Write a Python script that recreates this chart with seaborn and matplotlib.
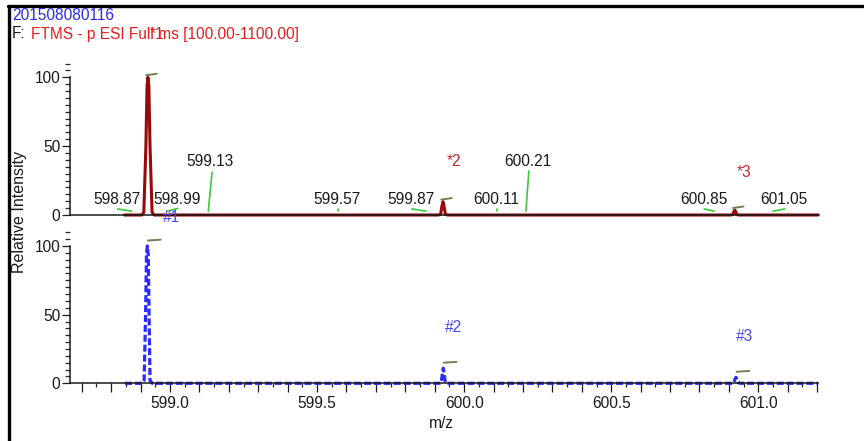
import pandas as pd
import seaborn as sns
import matplotlib.pyplot as plt
from matplotlib.lines import Line2D
from matplotlib.ticker import MultipleLocator, FixedLocator, FuncFormatter

# measured profile spectrum (top) and simulated isotope pattern (bottom)
mz_top = [598.845, 598.904, 598.911, 598.918, 598.922, 598.925, 598.928, 598.932, 598.939, 598.946,
          599.912, 599.920, 599.924, 599.928, 599.932, 599.936, 599.944,
          600.906, 600.913, 600.917, 600.920, 600.923, 600.927, 600.934, 601.204]
int_top = [0, 0, 2, 50, 94, 100, 94, 50, 2, 0,
           0, 0.5, 6, 9.7, 6, 0.5, 0,
           0, 0.3, 2.5, 3.6, 2.5, 0.3, 0, 0]

mz_bot = [598.847, 598.906, 598.912, 598.917, 598.920, 598.923, 598.926, 598.932, 598.940,
          599.915, 599.922, 599.926, 599.929, 599.932, 599.936, 599.944,
          600.910, 600.917, 600.921, 600.924, 600.927, 600.931, 600.938, 601.204]
int_bot = [0, 0, 2, 50, 94, 100, 94, 2, 0,
           0, 0.5, 7, 11, 7, 0.5, 0,
           0, 0.5, 3.2, 4.4, 3.2, 0.5, 0, 0]

# isotope peak centroids
peak_mz_top = [598.925, 599.928, 600.920]
peak_int_top = [100, 9.7, 3.6]
peak_names_top = ['*1', '*2', '*3']
peak_mz_bot = [598.923, 599.929, 600.924]
peak_int_bot = [100, 11, 4.4]
peak_names_bot = ['#1', '#2', '#3']

# labelled noise peaks in the top trace
noise_mz = [598.87, 598.99, 599.13, 599.57, 599.87, 600.11, 600.21, 600.85, 601.05]
noise_labels = ['598.87', '598.99', '599.13', '599.57', '599.87', '600.11', '600.21', '600.85', '601.05']

# label placement (data units)
noise_text_x = [598.821, 599.024, 599.136, 599.568, 599.819, 600.108, 600.217, 600.815, 601.087]
noise_text_y = [11.6, 11.6, 38.5, 11.6, 11.6, 11.0, 38.5, 11.0, 11.0]
leader_x = [598.822, 599.027, 599.143, 599.570, 599.822, 600.110, 600.220, 600.816, 601.090]
leader_y = [4.4, 4.8, 31, 4.5, 4.4, 4.5, 32, 4.4, 4.4]
top_lbl_dx = [0.032, 0.036, 0.033]
top_lbl_y = [131, 38.5, 31]
bot_lbl_dx = [0.082, 0.036, 0.031]
bot_lbl_y = [121, 41, 34]

sns.set_style("white")
plt.rcParams['font.family'] = ['Liberation Sans', 'DejaVu Sans']

W, H = 864, 441
fig = plt.figure(figsize=(W / 100, H / 100), dpi=100)

X0, X1 = 598.66, 601.204
YLO, YHI = -2, 112
FS = 11.2


def panel_rect(zero_px, px_per_unit):
    bot = zero_px - YLO * px_per_unit
    top = zero_px - YHI * px_per_unit
    return [70 / W, (H - bot) / H, (818.3 - 70) / W, (bot - top) / H]


ax_top = fig.add_axes(panel_rect(215.0, 1.377))
ax_bot = fig.add_axes(panel_rect(383.3, 1.373))

for ax in (ax_top, ax_bot):
    ax.set_xlim(X0, X1)
    ax.set_ylim(YLO, YHI)
    ax.patch.set_alpha(0)
    for s in ('top', 'right'):
        ax.spines[s].set_visible(False)
    ax.spines['left'].set_bounds(0, 100)
    ax.spines['bottom'].set_position(('data', 0))
    for s in ('left', 'bottom'):
        ax.spines[s].set_linewidth(1.1)
        ax.spines[s].set_color('#1a1a1a')
    ax.yaxis.set_major_locator(FixedLocator([0, 50, 100]))
    ax.yaxis.set_minor_locator(MultipleLocator(5))
    ax.tick_params(axis='y', which='major', length=6, width=0.9, pad=1,
                   labelsize=FS, colors='#1a1a1a', left=True)
    ax.tick_params(axis='y', which='minor', length=3.8, width=0.9, left=True)

ax_top.tick_params(axis='x', which='both', bottom=False, labelbottom=False)

ax_bot.xaxis.set_major_locator(MultipleLocator(0.1))
ax_bot.xaxis.set_minor_locator(MultipleLocator(0.05))
ax_bot.xaxis.set_major_formatter(
    FuncFormatter(lambda v, p: f"{v:.1f}" if abs(round(v * 2) - v * 2) < 1e-6 else ""))
ax_bot.tick_params(axis='x', which='major', length=6.5, width=0.9, pad=2.5,
                   labelsize=FS, colors='#1a1a1a', bottom=True)
ax_bot.tick_params(axis='x', which='minor', length=3, width=0.9, bottom=True)

# spectra
top_df = pd.DataFrame({'mz': mz_top, 'intensity': int_top})
bot_df = pd.DataFrame({'mz': mz_bot, 'intensity': int_bot})
sns.lineplot(data=top_df, x='mz', y='intensity', ax=ax_top, color='#960a0a',
             linewidth=2.2, estimator=None, sort=False, clip_on=False)
sns.lineplot(data=bot_df, x='mz', y='intensity', ax=ax_bot, color='#2b2bff',
             linewidth=2.3, linestyle=(0, (2.2, 0.9)), estimator=None, sort=False, clip_on=False)
for ax in (ax_top, ax_bot):
    ax.set_xlabel('')
    ax.set_ylabel('')

# centroid marks above isotope peaks
olive = '#6e8250'
for mz, h in zip(peak_mz_top, peak_int_top):
    ax_top.plot([mz - 0.006, mz + 0.03], [h + 1.5, h + 2.6], color=olive, lw=1.4, clip_on=False)
for mz, h in zip(peak_mz_bot, peak_int_bot):
    ax_bot.plot([mz + 0.002, mz + 0.045], [h + 4.0, h + 4.6], color=olive, lw=1.4, clip_on=False)

# isotope labels
for mz, name, dx, y in zip(peak_mz_top, peak_names_top, top_lbl_dx, top_lbl_y):
    ax_top.text(mz + dx, y, name, ha='center', va='center', fontsize=FS,
                color='#c0282d', clip_on=False)
for mz, name, dx, y in zip(peak_mz_bot, peak_names_bot, bot_lbl_dx, bot_lbl_y):
    ax_bot.text(mz + dx, y, name, ha='center', va='center', fontsize=FS,
                color='#4646ff', clip_on=False, zorder=5)

# noise peak labels with green leaders
green = '#3cc83c'
for mz, lab, tx, ty, lx, ly in zip(noise_mz, noise_labels, noise_text_x, noise_text_y,
                                   leader_x, leader_y):
    ax_top.plot([lx, mz], [ly, 2.8], color=green, lw=1.2)
    ax_top.text(tx, ty, lab, ha='center', va='center', fontsize=FS, color='#1a1a1a')

# header and axis titles
fig.text(12 / W, 1 - 16 / H, '201508080116', ha='left', va='center', fontsize=FS, color='#2a2aee')
fig.text(12 / W, 1 - 34 / H, 'F:', ha='left', va='center', fontsize=FS, color='#1a1a1a')
fig.text(31 / W, 1 - 34 / H, 'FTMS - p ESI Full ms [100.00-1100.00]', ha='left', va='center',
         fontsize=FS, color='#e81e1e')
fig.text(20 / W, 1 - 212 / H, 'Relative Intensity', rotation=90, ha='center', va='center',
         fontsize=11.5, color='#1a1a1a')
fig.text(441 / W, 1 - 423 / H, 'm/z', ha='center', va='center', fontsize=FS, color='#1a1a1a')

# window frame
fig.add_artist(Line2D([8 / W, 1], [1 - 5.5 / H, 1 - 5.5 / H], color='black', lw=2.4,
                      transform=fig.transFigure))
fig.add_artist(Line2D([9 / W, 9 / W], [0, 1 - 5.5 / H], color='black', lw=2.4,
                      transform=fig.transFigure))

fig.savefig('out.png', dpi=100)
